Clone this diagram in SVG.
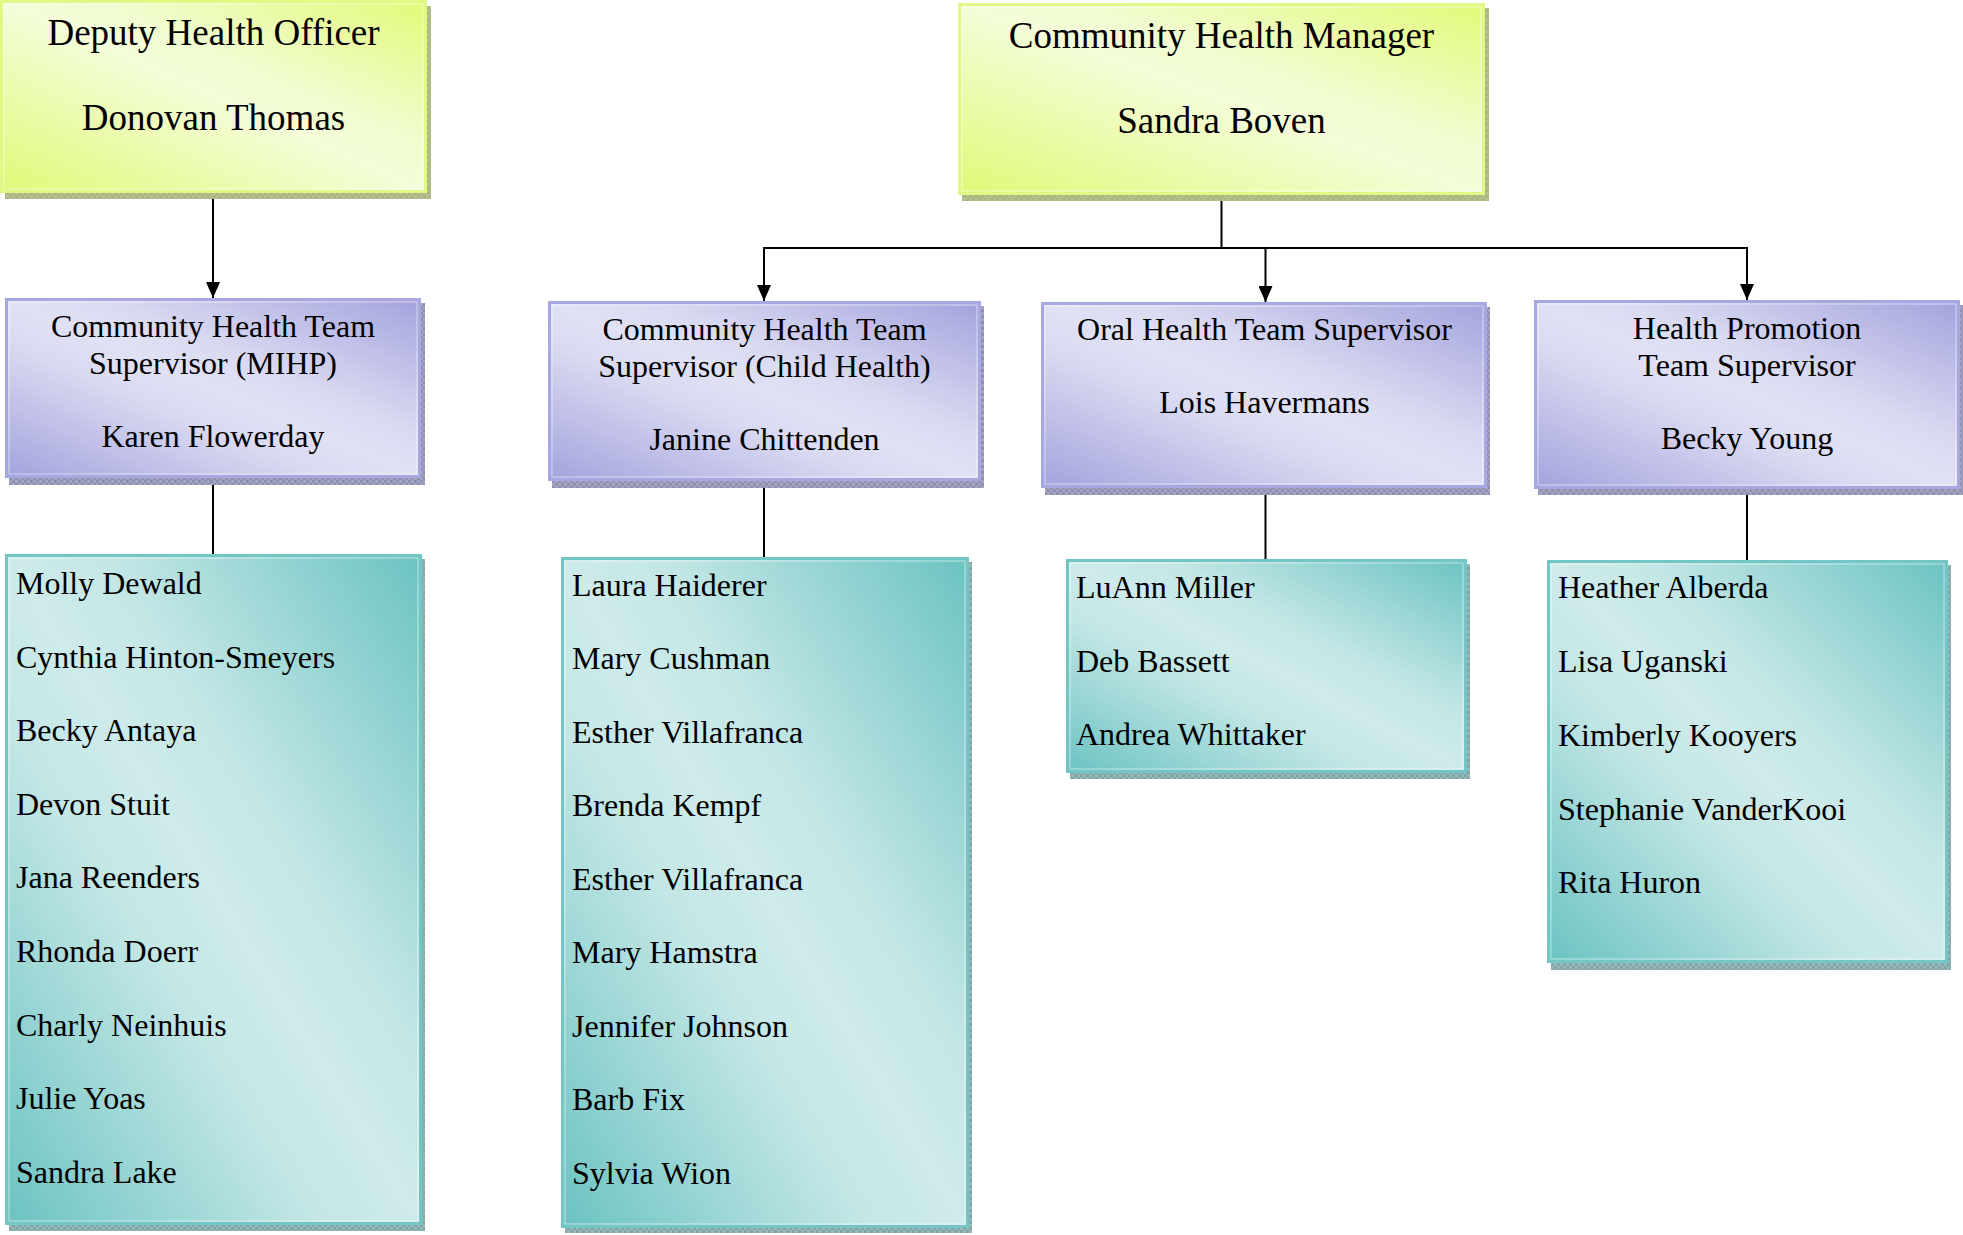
<svg xmlns="http://www.w3.org/2000/svg" width="1963" height="1235" viewBox="0 0 1963 1235">
<defs>
<linearGradient id="gG" x1="0" y1="1" x2="1" y2="0">
<stop offset="0" stop-color="#e0f977"/><stop offset="0.5" stop-color="#f4fdd9"/><stop offset="0.62" stop-color="#f1fcd0"/><stop offset="1" stop-color="#e2fa78"/>
</linearGradient>
<linearGradient id="gP" x1="0" y1="1" x2="1" y2="0">
<stop offset="0" stop-color="#a3a3de"/><stop offset="0.38" stop-color="#d9d9f1"/><stop offset="0.5" stop-color="#e1e1f5"/><stop offset="0.62" stop-color="#d9d9f1"/><stop offset="1" stop-color="#a3a3de"/>
</linearGradient>
<linearGradient id="gT" x1="0" y1="1" x2="1" y2="0">
<stop offset="0" stop-color="#6bc3c2"/><stop offset="0.38" stop-color="#c4e7e6"/><stop offset="0.5" stop-color="#cdebea"/><stop offset="0.62" stop-color="#c4e7e6"/><stop offset="1" stop-color="#6bc3c2"/>
</linearGradient>
<pattern id="hG" width="6" height="6" patternUnits="userSpaceOnUse">
<rect width="6" height="6" fill="#b7c18f"/><rect width="3" height="3" fill="#aab47f"/><rect x="3" y="3" width="3" height="3" fill="#aab47f"/>
</pattern>
<pattern id="hP" width="6" height="6" patternUnits="userSpaceOnUse">
<rect width="6" height="6" fill="#a3a3c2"/><rect width="3" height="3" fill="#9090b0"/><rect x="3" y="3" width="3" height="3" fill="#9090b0"/>
</pattern>
<pattern id="hT" width="6" height="6" patternUnits="userSpaceOnUse">
<rect width="6" height="6" fill="#95b8b8"/><rect width="3" height="3" fill="#82a6a6"/><rect x="3" y="3" width="3" height="3" fill="#82a6a6"/>
</pattern>
<marker id="arr" viewBox="0 0 16 14" refX="16" refY="7" markerWidth="16" markerHeight="14" markerUnits="userSpaceOnUse" orient="auto">
<path d="M0,0 L16,7 L0,14 Z" fill="#000"/>
</marker>
</defs>
<style>
.sg{fill:url(#hG)}
.sp{fill:url(#hP)}
.st{fill:url(#hT)}
.bg{fill:url(#gG);stroke:#e0f884;stroke-width:3}
.bp{fill:url(#gP);stroke:#a7a7e2;stroke-width:3}
.bt{fill:url(#gT);stroke:#72c6c5;stroke-width:3}
.in{fill:none;stroke:#ffffff;stroke-opacity:0.55;stroke-width:1}
text{font-family:"Liberation Serif","Times New Roman",serif;fill:#000}
.h1{font-size:37px;text-anchor:middle}
.h2{font-size:32px;text-anchor:middle}
.li{font-size:32px}
.c{fill:none;stroke:#000;stroke-width:2}
</style>

<g id="connectors">
<line class="c" x1="213" y1="193" x2="213" y2="298" marker-end="url(#arr)"/>
<line class="c" x1="1221.5" y1="195" x2="1221.5" y2="248"/>
<line class="c" x1="763" y1="248" x2="1748" y2="248"/>
<line class="c" x1="764" y1="247" x2="764" y2="301" marker-end="url(#arr)"/>
<line class="c" x1="1265.5" y1="248" x2="1265.5" y2="302" marker-end="url(#arr)"/>
<line class="c" x1="1747" y1="247" x2="1747" y2="300" marker-end="url(#arr)"/>
<line class="c" x1="213" y1="478" x2="213" y2="554"/>
<line class="c" x1="764" y1="481" x2="764" y2="557"/>
<line class="c" x1="1265.5" y1="488" x2="1265.5" y2="559"/>
<line class="c" x1="1747" y1="489" x2="1747" y2="560"/>
</g>

<g id="deputy-health-officer">
<rect class="sg" x="5" y="6" width="426" height="193"/>
<rect class="bg" x="1.5" y="1.5" width="424" height="190"/>
<rect class="in" x="4" y="4" width="419" height="185"/>
<text class="h1" x="213.5" y="45">Deputy Health Officer</text>
<text class="h1" x="213.5" y="130">Donovan Thomas</text>
</g>

<g id="community-health-manager">
<rect class="sg" x="962" y="8" width="527" height="193"/>
<rect class="bg" x="959.5" y="4.5" width="524" height="189"/>
<rect class="in" x="962" y="7" width="519" height="184"/>
<text class="h1" x="1221.5" y="48">Community Health Manager</text>
<text class="h1" x="1221.5" y="133">Sandra Boven</text>
</g>

<g id="supervisor-mihp">
<rect class="sp" x="9" y="303" width="416" height="182"/>
<rect class="bp" x="6.5" y="299.5" width="413" height="177"/>
<rect class="in" x="9" y="302" width="408" height="172"/>
<text class="h2" x="213" y="337">Community Health Team</text>
<text class="h2" x="213" y="374">Supervisor (MIHP)</text>
<text class="h2" x="213" y="447">Karen Flowerday</text>
</g>

<g id="supervisor-child-health">
<rect class="sp" x="552" y="306" width="432" height="182"/>
<rect class="bp" x="549.5" y="302.5" width="430" height="177"/>
<rect class="in" x="552" y="305" width="425" height="172"/>
<text class="h2" x="764.5" y="340">Community Health Team</text>
<text class="h2" x="764.5" y="377">Supervisor (Child Health)</text>
<text class="h2" x="764.5" y="450">Janine Chittenden</text>
</g>

<g id="supervisor-oral-health">
<rect class="sp" x="1045" y="307" width="445" height="188"/>
<rect class="bp" x="1042.5" y="303.5" width="443" height="183"/>
<rect class="in" x="1045" y="306" width="438" height="178"/>
<text class="h2" x="1264.5" y="340">Oral Health Team Supervisor</text>
<text class="h2" x="1264.5" y="413">Lois Havermans</text>
</g>

<g id="supervisor-health-promotion">
<rect class="sp" x="1538" y="305" width="425" height="190"/>
<rect class="bp" x="1535.5" y="301.5" width="423" height="186"/>
<rect class="in" x="1538" y="304" width="418" height="181"/>
<text class="h2" x="1747" y="339">Health Promotion</text>
<text class="h2" x="1747" y="376">Team Supervisor</text>
<text class="h2" x="1747" y="449">Becky Young</text>
</g>

<g id="staff-mihp">
<rect class="st" x="9" y="559" width="416" height="672"/>
<rect class="bt" x="6.5" y="555.5" width="414" height="668"/>
<rect class="in" x="9" y="558" width="409" height="663"/>
<text class="li" x="16" y="594">Molly Dewald</text>
<text class="li" x="16" y="667.6">Cynthia Hinton-Smeyers</text>
<text class="li" x="16" y="741.2">Becky Antaya</text>
<text class="li" x="16" y="814.8">Devon Stuit</text>
<text class="li" x="16" y="888.4">Jana Reenders</text>
<text class="li" x="16" y="962">Rhonda Doerr</text>
<text class="li" x="16" y="1035.6">Charly Neinhuis</text>
<text class="li" x="16" y="1109.2">Julie Yoas</text>
<text class="li" x="16" y="1182.8">Sandra Lake</text>
</g>

<g id="staff-child-health">
<rect class="st" x="565" y="562" width="407" height="671"/>
<rect class="bt" x="562.5" y="558.5" width="405" height="668"/>
<rect class="in" x="565" y="561" width="400" height="663"/>
<text class="li" x="572" y="595.5">Laura Haiderer</text>
<text class="li" x="572" y="669">Mary Cushman</text>
<text class="li" x="572" y="742.5">Esther Villafranca</text>
<text class="li" x="572" y="816">Brenda Kempf</text>
<text class="li" x="572" y="889.5">Esther Villafranca</text>
<text class="li" x="572" y="963">Mary Hamstra</text>
<text class="li" x="572" y="1036.5">Jennifer Johnson</text>
<text class="li" x="572" y="1110">Barb Fix</text>
<text class="li" x="572" y="1183.5">Sylvia Wion</text>
</g>

<g id="staff-oral-health">
<rect class="st" x="1070" y="564" width="400" height="215"/>
<rect class="bt" x="1067.5" y="560.5" width="398" height="211"/>
<rect class="in" x="1070" y="563" width="393" height="206"/>
<text class="li" x="1076" y="598">LuAnn Miller</text>
<text class="li" x="1076" y="672">Deb Bassett</text>
<text class="li" x="1076" y="745">Andrea Whittaker</text>
</g>

<g id="staff-health-promotion">
<rect class="st" x="1551" y="565" width="400" height="405"/>
<rect class="bt" x="1548.5" y="561.5" width="398" height="400"/>
<rect class="in" x="1551" y="564" width="393" height="395"/>
<text class="li" x="1558" y="598">Heather Alberda</text>
<text class="li" x="1558" y="672">Lisa Uganski</text>
<text class="li" x="1558" y="746">Kimberly Kooyers</text>
<text class="li" x="1558" y="820">Stephanie VanderKooi</text>
<text class="li" x="1558" y="893">Rita Huron</text>
</g>
</svg>
